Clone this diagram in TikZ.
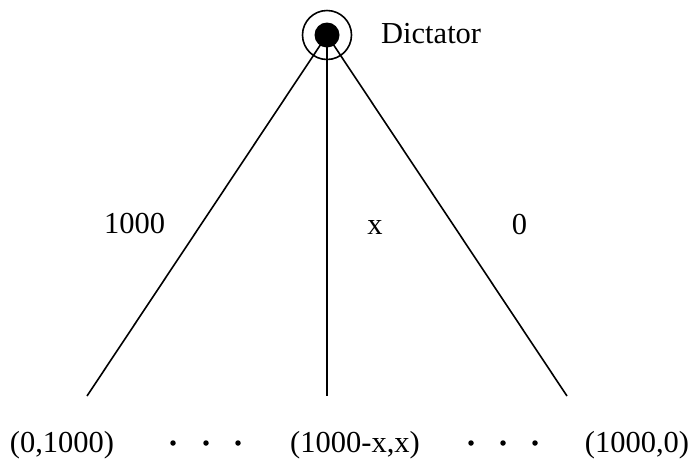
\documentclass[tikz,border=0pt]{standalone}
\usepackage{fontspec}
\setmainfont{Liberation Serif}
\begin{document}
\begin{tikzpicture}[x=1pt,y=-1pt,
  lbl/.style={inner sep=0pt, anchor=base, font=\fontsize{30.5}{36}\selectfont},
  dotnode/.style={circle, fill, inner sep=0pt, minimum size=5.5pt},
  edge/.style={line width=1.6pt},
  rootnode/.style={circle, draw, line width=1.6pt, minimum size=49pt, inner sep=0pt}]
\useasboundingbox (0,0) rectangle (696,459);
% root
\node[rootnode] (root) at (327,35) {};
\coordinate (l1) at (87,396);
\coordinate (l2) at (327,396);
\coordinate (l3) at (567,396);
\draw[edge] (root.center) -- (l1);
\draw[edge] (root.center) -- (l2);
\draw[edge] (root.center) -- (l3);
\fill (root.center) circle[radius=12.5];
% labels
\node[lbl, anchor=base west] (dict) at (381,43) {Dictator};
\node[lbl] (e1) at (134.5,233) {1000};
\node[lbl] (e2) at (375,234) {x};
\node[lbl] (e3) at (519.5,234) {0};
% payoffs
\node[lbl] (p1) at (62,452) {(0,1000)};
\node[lbl] (p2) at (355,452) {(1000-x,x)};
\node[lbl] (p3) at (637,452) {(1000,0)};
\node[dotnode] (d1) at (173,443) {};
\node[dotnode] (d2) at (206,443) {};
\node[dotnode] (d3) at (238,443) {};
\node[dotnode] (d4) at (471,443) {};
\node[dotnode] (d5) at (503,443) {};
\node[dotnode] (d6) at (535,443) {};
\end{tikzpicture}
\end{document}
